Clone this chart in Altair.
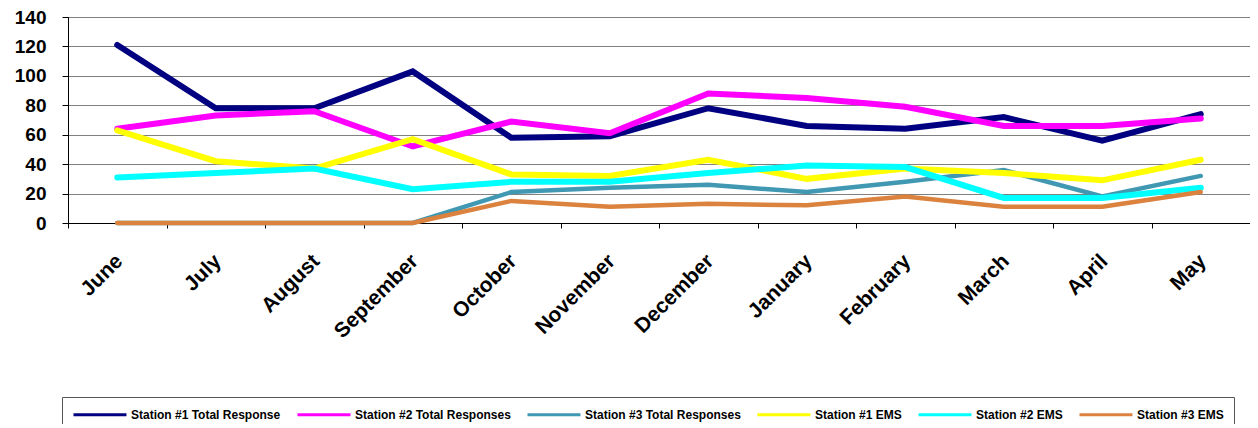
import altair as alt
import pandas as pd

months = ["June", "July", "August", "September", "October", "November",
          "December", "January", "February", "March", "April", "May"]
series_names = ["Station #1 Total Response", "Station #2 Total Responses",
                "Station #3 Total Responses", "Station #1 EMS",
                "Station #2 EMS", "Station #3 EMS"]
s1_total = [121, 78, 78, 103, 58, 59, 78, 66, 64, 72, 56, 74]
s2_total = [64, 73, 76, 52, 69, 61, 88, 85, 79, 66, 66, 71]
s3_total = [0, 0, 0, 0, 21, 24, 26, 21, 28, 36, 18, 32]
s1_ems = [63, 42, 37, 57, 33, 32, 43, 30, 37, 34, 29, 43]
s2_ems = [31, 34, 37, 23, 28, 28, 34, 39, 38, 17, 17, 24]
s3_ems = [0, 0, 0, 0, 15, 11, 13, 12, 18, 11, 11, 21]
y_ticks = [0, 20, 40, 60, 80, 100, 120, 140]

colors = ["#000080", "#FF00FF", "#4198B2", "#FFFF00", "#00FFFF", "#DB823E"]
widths = [6, 6, 4.5, 6, 6, 4.5]

all_series = [s1_total, s2_total, s3_total, s1_ems, s2_ems, s3_ems]
rows = []
for name, vals in zip(series_names, all_series):
    for m, v in zip(months, vals):
        rows.append({"month": m, "series": name, "value": v})
df = pd.DataFrame(rows)

FONT = "Liberation Sans"

x_enc = alt.X("month:N", sort=months,
              scale=alt.Scale(type="band", domain=months, paddingInner=0, paddingOuter=0),
              axis=alt.Axis(title=None, labelAngle=-45, labelAlign="right", labelBaseline="top",
                            labelFont=FONT, labelFontSize=21, labelFontWeight="bold",
                            labelColor="#000000", labelPadding=22, labelOffset=-6,
                            tickBand="extent", ticks=True, tickSize=5, tickColor="#000000",
                            domainColor="#000000", grid=False, labelOverlap=False))
y_enc = alt.Y("value:Q", scale=alt.Scale(domain=[0, 140], nice=False),
              axis=alt.Axis(title=None, values=y_ticks, labelFont=FONT, labelFontSize=19,
                            labelFontWeight="bold", labelColor="#000000", labelPadding=16,
                            tickSize=6, tickColor="#000000", domainColor="#000000",
                            grid=True, gridColor="#808080", gridWidth=1))
color_enc = alt.Color("series:N", scale=alt.Scale(domain=series_names, range=colors),
                      legend=alt.Legend(orient="none", legendX=-6, legendY=380,
                                        direction="horizontal", columns=6, title=None,
                                        symbolType="M-1,0L7.83,0", symbolSize=144,
                                        symbolStrokeWidth=3, labelFont=FONT,
                                        labelFontSize=12, labelFontWeight="bold",
                                        labelColor="#000000", labelLimit=400,
                                        labelOffset=44, columnPadding=10, padding=10,
                                        strokeColor="#555555", fillColor="#FFFFFF"))

layers = []
for name, w in zip(series_names, widths):
    layers.append(
        alt.Chart(df).transform_filter(alt.datum.series == name)
        .mark_line(strokeWidth=w, strokeJoin="miter", strokeCap="round")
        .encode(x=x_enc, y=y_enc, color=color_enc)
    )

chart = alt.layer(*layers).properties(
    width=1182, height=206,
    autosize=alt.AutoSizeParams(type="none"),
    padding={"left": 60, "top": 9, "right": 0, "bottom": 201},
    background="#FFFFFF",
).configure_view(stroke="#000000", strokeWidth=1)

chart.save("out.html", embed_options={"renderer": "svg", "actions": False})
